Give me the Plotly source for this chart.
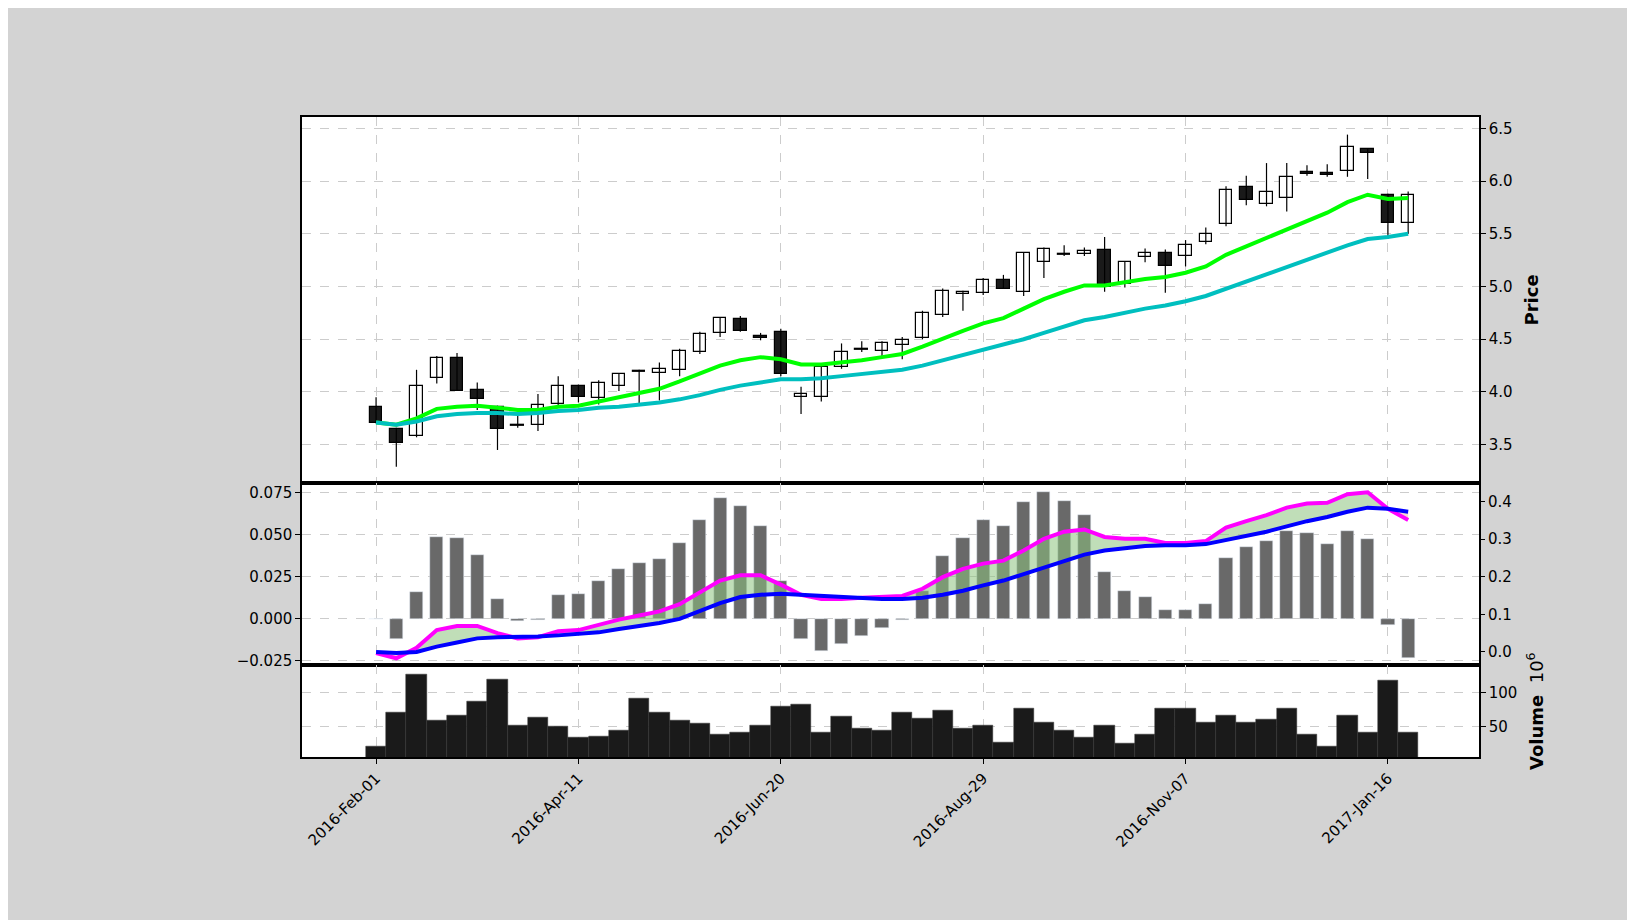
import pandas as pd
import plotly.graph_objects as go

# weekly candles, 2016-02-01 .. 2017-01-23
dates = pd.date_range("2016-02-01", periods=52, freq="W-MON")
opens = [3.86, 3.65, 3.58, 4.13, 4.32, 4.02, 3.86, 3.68, 3.69, 3.89, 4.06, 3.94, 4.06, 4.20, 4.18, 4.21,
         4.38, 4.56, 4.69, 4.53, 4.57, 3.95, 3.95, 4.24, 4.40, 4.39, 4.45, 4.51, 4.73, 4.93, 4.94, 5.06,
         4.95, 5.23, 5.30, 5.31, 5.35, 5.02, 5.28, 5.32, 5.29, 5.42, 5.59, 5.94, 5.78, 5.84, 6.09, 6.08,
         6.10, 6.30, 5.87, 5.60]
closes = [3.71, 3.52, 4.06, 4.32, 4.01, 3.93, 3.65, 3.69, 3.88, 4.06, 3.95, 4.09, 4.17, 4.19, 4.22, 4.39,
          4.55, 4.70, 4.58, 4.51, 4.17, 3.98, 4.24, 4.38, 4.41, 4.47, 4.49, 4.75, 4.96, 4.95, 5.06, 4.98,
          5.32, 5.36, 5.31, 5.34, 5.00, 5.23, 5.32, 5.20, 5.39, 5.50, 5.92, 5.82, 5.90, 6.04, 6.07, 6.06,
          6.32, 6.27, 5.60, 5.87]
highs = [3.95, 3.66, 4.21, 4.34, 4.37, 4.09, 3.87, 3.78, 3.98, 4.15, 4.07, 4.11, 4.18, 4.21, 4.28, 4.41,
         4.57, 4.71, 4.72, 4.56, 4.60, 4.05, 4.27, 4.46, 4.48, 4.48, 4.52, 4.77, 4.98, 4.96, 5.08, 5.11,
         5.32, 5.37, 5.39, 5.37, 5.47, 5.24, 5.36, 5.35, 5.44, 5.56, 5.95, 6.05, 6.17, 6.17, 6.15, 6.16,
         6.44, 6.31, 5.88, 5.90]
lows = [3.70, 3.29, 3.57, 4.08, 4.01, 3.83, 3.45, 3.66, 3.63, 3.87, 3.90, 3.88, 4.01, 3.88, 3.92, 4.15,
        4.36, 4.52, 4.57, 4.49, 4.15, 3.79, 3.91, 4.22, 4.38, 4.33, 4.31, 4.50, 4.71, 4.77, 4.92, 4.98,
        4.91, 5.08, 5.29, 5.29, 4.95, 4.99, 5.23, 4.94, 5.19, 5.40, 5.57, 5.77, 5.76, 5.71, 6.05, 6.04,
        6.04, 6.02, 5.45, 5.50]
ma_fast = [3.71, 3.69, 3.75, 3.84, 3.86, 3.87, 3.85, 3.83, 3.83, 3.86, 3.87, 3.91, 3.95, 3.99, 4.03, 4.10,
           4.17, 4.25, 4.30, 4.33, 4.31, 4.26, 4.26, 4.28, 4.30, 4.33, 4.36, 4.43, 4.51, 4.58, 4.65, 4.70,
           4.79, 4.88, 4.95, 5.01, 5.01, 5.04, 5.07, 5.09, 5.13, 5.19, 5.30, 5.38, 5.46, 5.55, 5.63, 5.70,
           5.80, 5.87, 5.83, 5.84]
ma_slow = [3.71, 3.69, 3.72, 3.77, 3.79, 3.80, 3.80, 3.79, 3.80, 3.82, 3.83, 3.85, 3.86, 3.88, 3.90, 3.93,
           3.97, 4.02, 4.06, 4.09, 4.12, 4.12, 4.13, 4.15, 4.17, 4.19, 4.21, 4.25, 4.30, 4.35, 4.40, 4.45,
           4.50, 4.56, 4.62, 4.68, 4.71, 4.75, 4.79, 4.82, 4.86, 4.91, 4.98, 5.05, 5.12, 5.19, 5.26, 5.32,
           5.39, 5.45, 5.47, 5.50]
macd_hist = [0.0, -0.0123, 0.016, 0.049, 0.048, 0.038, 0.012, -0.0015, -0.0007, 0.014, 0.0148, 0.0228,
             0.0296, 0.0333, 0.0358, 0.045, 0.0586, 0.0722, 0.0673, 0.055, 0.0228, -0.0123, -0.019,
             -0.0148, -0.0105, -0.0055, -0.0006, 0.0167, 0.0377, 0.048, 0.0586, 0.055, 0.0698, 0.0753,
             0.0704, 0.0617, 0.0278, 0.0167, 0.013, 0.005, 0.005, 0.0086, 0.0364, 0.0426, 0.0463, 0.0525,
             0.0512, 0.0444, 0.0525, 0.0475, -0.0037, -0.0235]
signal = [0.000, -0.003, 0.000, 0.014, 0.025, 0.036, 0.039, 0.039, 0.041, 0.044, 0.047, 0.052, 0.061,
          0.069, 0.077, 0.088, 0.108, 0.130, 0.146, 0.152, 0.155, 0.152, 0.149, 0.146, 0.144, 0.141,
          0.141, 0.144, 0.152, 0.163, 0.177, 0.190, 0.207, 0.224, 0.243, 0.259, 0.270, 0.276, 0.282,
          0.284, 0.284, 0.287, 0.298, 0.309, 0.320, 0.334, 0.348, 0.359, 0.373, 0.384, 0.381, 0.373]
macd = [-0.003, -0.017, 0.011, 0.058, 0.069, 0.069, 0.050, 0.036, 0.039, 0.055, 0.058, 0.072, 0.086,
        0.097, 0.108, 0.127, 0.157, 0.190, 0.204, 0.204, 0.179, 0.152, 0.141, 0.141, 0.144, 0.146,
        0.149, 0.168, 0.199, 0.221, 0.235, 0.243, 0.270, 0.301, 0.320, 0.326, 0.306, 0.301, 0.301,
        0.290, 0.290, 0.295, 0.331, 0.348, 0.364, 0.384, 0.395, 0.397, 0.420, 0.425, 0.381, 0.351]
volume = [21, 70, 126, 59, 67, 86, 118, 52, 64, 50, 35, 36, 44, 91, 71, 59, 55, 39, 42, 52, 79, 83, 42,
          65, 48, 45, 71, 62, 74, 48, 52, 27, 76, 56, 44, 35, 52, 26, 38, 77, 76, 56, 67, 56, 61, 77, 39,
          21, 67, 42, 117, 41]

x = list(range(len(dates)))
tick_idx = [0, 10, 20, 30, 40, 50]
tick_txt = [dates[i].strftime("%Y-%b-%d") for i in tick_idx]

upper = [max(m, s) for m, s in zip(macd, signal)]
lower = [min(m, s) for m, s in zip(macd, signal)]

# candles: wicks as one line trace, bodies as floating bars
wick_x, wick_y = [], []
for i in x:
    wick_x += [i, i, None]
    wick_y += [lows[i], highs[i], None]
body_base = [min(o, c) for o, c in zip(opens, closes)]
body_h = [max(abs(c - o), 0.012) for o, c in zip(opens, closes)]
body_col = ["white" if c >= o else "#1a1a1a" for o, c in zip(opens, closes)]

fig = go.Figure()
fig.add_trace(go.Scatter(x=wick_x, y=wick_y, mode="lines", line=dict(color="black", width=1.2),
                         xaxis="x", yaxis="y", showlegend=False, hoverinfo="skip"))
fig.add_trace(go.Bar(x=x, y=body_h, base=body_base, width=0.62,
                     marker=dict(color=body_col, line=dict(color="black", width=1.2)),
                     xaxis="x", yaxis="y", showlegend=False))
fig.add_trace(go.Scatter(x=x, y=ma_fast, mode="lines", line=dict(color="#00ff00", width=4),
                         xaxis="x", yaxis="y", showlegend=False))
fig.add_trace(go.Scatter(x=x, y=ma_slow, mode="lines", line=dict(color="#00bfbf", width=4),
                         xaxis="x", yaxis="y", showlegend=False))

# macd panel
fig.add_trace(go.Bar(x=x, y=macd_hist, marker_color="dimgray", width=0.65,
                     xaxis="x2", yaxis="y2", showlegend=False))
fig.add_trace(go.Scatter(x=x, y=signal, mode="lines", line=dict(width=0),
                         xaxis="x2", yaxis="y4", showlegend=False))
fig.add_trace(go.Scatter(x=x, y=upper, mode="lines", line=dict(width=0), fill="tonexty",
                         fillcolor="rgba(140,195,125,0.55)", xaxis="x2", yaxis="y4", showlegend=False))
fig.add_trace(go.Scatter(x=x, y=signal, mode="lines", line=dict(width=0),
                         xaxis="x2", yaxis="y4", showlegend=False))
fig.add_trace(go.Scatter(x=x, y=lower, mode="lines", line=dict(width=0), fill="tonexty",
                         fillcolor="rgba(240,170,170,0.5)", xaxis="x2", yaxis="y4", showlegend=False))
fig.add_trace(go.Scatter(x=x, y=macd, mode="lines", line=dict(color="#ff00ff", width=4),
                         xaxis="x2", yaxis="y4", showlegend=False))
fig.add_trace(go.Scatter(x=x, y=signal, mode="lines", line=dict(color="#0000ff", width=4),
                         xaxis="x2", yaxis="y4", showlegend=False))

# volume panel
fig.add_trace(go.Bar(x=x, y=volume, marker=dict(color="#1a1a1a", line=dict(color="#333", width=0.5)),
                     width=1.0, xaxis="x3", yaxis="y3", showlegend=False))

grid = dict(showgrid=True, gridcolor="#cccccc", griddash="dash", gridwidth=1,
            showline=True, linecolor="black", linewidth=1.5, mirror=True,
            ticks="outside", tickcolor="black", ticklen=5, zeroline=False)
xr = [-3.66, 54.5]
fig.update_layout(
    width=1635, height=920,
    paper_bgcolor="#d3d3d3", plot_bgcolor="white",
    margin=dict(l=294, r=164, t=0, b=0),
    font=dict(family="DejaVu Sans", size=15, color="black"),
    bargap=0,
    xaxis=dict(domain=[0, 1], range=xr, anchor="y", tickvals=tick_idx, showticklabels=False, **grid),
    xaxis2=dict(domain=[0, 1], range=xr, anchor="y2", tickvals=tick_idx, showticklabels=False,
                matches="x", **grid),
    xaxis3=dict(domain=[0, 1], range=xr, anchor="y3", tickvals=tick_idx, ticktext=tick_txt,
                tickangle=-45, matches="x", **grid),
    yaxis=dict(domain=[0.4809, 0.881], range=[3.137, 6.608], side="right",
               tickvals=[3.5, 4.0, 4.5, 5.0, 5.5, 6.0, 6.5], ticktext=["3.5", "4.0", "4.5", "5.0", "5.5", "6.0", "6.5"],
               title=dict(text="<b>Price</b>", font=dict(size=18), standoff=14), **grid),
    yaxis2=dict(domain=[0.2815, 0.4809], range=[-0.0278, 0.0809], side="left",
                tickvals=[-0.025, 0, 0.025, 0.05, 0.075], ticktext=["\u22120.025", "0.000", "0.025", "0.050", "0.075"],
                **grid),
    yaxis4=dict(overlaying="y2", range=[-0.036, 0.4497], side="right", anchor="x2",
                tickvals=[0, 0.1, 0.2, 0.3, 0.4], ticktext=["0.0", "0.1", "0.2", "0.3", "0.4"],
                showgrid=False, ticks="outside", tickcolor="black", ticklen=5, zeroline=False),
    yaxis3=dict(domain=[0.1815, 0.2815], range=[6, 139], side="right", tickvals=[50, 100],
                title=dict(text="<b>Volume</b>  10<sup>6</sup>", font=dict(size=18), standoff=14), **grid),
)
fig.write_html("out.html")
